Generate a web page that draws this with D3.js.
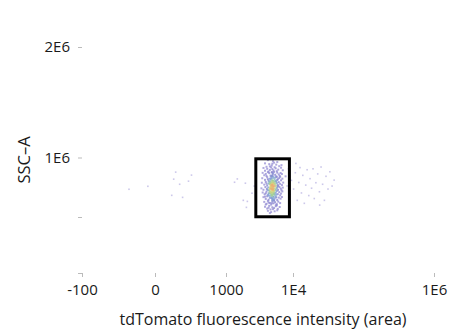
<!DOCTYPE html>
<html>
<head>
<meta charset="utf-8">
<script src="https://cdn.jsdelivr.net/npm/d3@7"></script>
<style>
  body { margin: 0; background: #fff; }
  svg text { font-family: "Open Sans", "DejaVu Sans", sans-serif; fill: #1a1a1a; }
  .tick line { stroke: #bbb; }
</style>
</head>
<body>
<svg id="chart" width="450" height="335"></svg>
<script>
// tick values and labels
var xTicks = [-100, 0, 1000, 1e4, 1e6];
var xTickLabels = ["-100", "0", "1000", "1E4", "1E6"];
var yTicks = [0, 500, 1000, 2000];               // SSC-A in thousands
var yTickLabels = ["", "", "1E6", "2E6"];

// gate (tdTomato, SSC-A in thousands)
var gateX = [2850, 8870];
var gateY = [502, 989];

// events inside the gate: [tdTomato, SSC-A (k)]
var gatedEvents = [
  [4300,978],[5100,969],[4700,985],[5900,962],
  [3900,951],[4500,944],[5300,957],[4900,933],[5700,940],[6300,927],[4100,922],[5000,948],[4600,925],[6800,936],
  [3700,912],[4200,905],[4800,917],[5200,891],[5600,909],[6100,898],[6700,914],[4400,883],[3900,889],[5000,902],[5800,885],[4600,896],[7100,893],[5400,918],
  [3600,871],[4000,862],[4300,877],[4700,848],[5100,866],[5500,855],[5900,873],[6400,846],[6900,861],[4500,869],[4900,843],[5300,879],[3800,851],[6200,858],[5700,842],[4100,845],[5000,875],[6600,870],
  [3550,826],[3900,812],[4200,834],[4400,805],[4600,822],[4800,838],[5000,809],[5200,829],[5400,816],[5600,803],[5800,836],[6000,818],[6300,827],[6700,808],[7000,822],[4700,801],[5100,841],[5500,832],[4300,818],[5900,811],[4900,826],[6500,838],
  [3500,788],[3800,772],[4000,795],[4200,765],[4400,781],[4500,797],[4700,769],[4800,786],[5000,762],[5100,792],[5300,777],[5400,798],[5600,766],[5800,785],[6000,771],[6200,793],[6500,779],[6900,768],[7200,789],[4600,777],[4900,774],[5200,785],[5500,781],[4100,781],[5700,797],[6100,761],
  [3450,741],[3700,729],[3950,752],[4150,736],[4350,748],[4450,723],[4650,742],[4750,757],[4950,731],[5050,749],[5250,726],[5350,739],[5550,754],[5650,733],[5850,745],[6050,728],[6350,751],[6650,738],[7100,747],[4550,733],[4850,744],[5150,738],[5450,722],[5950,758],[4250,727],[6800,725],
  [3600,706],[3850,691],[4100,713],[4300,684],[4500,702],[4600,716],[4800,689],[4900,707],[5100,694],[5200,712],[5400,686],[5600,703],[5800,718],[6000,692],[6300,709],[6700,697],[7000,715],[4400,695],[4700,699],[5000,683],[5300,701],[5700,688],[4000,699],[6500,682],
  [3700,667],[4000,652],[4200,674],[4400,645],[4600,661],[4800,677],[5000,648],[5200,669],[5400,656],[5600,672],[5900,643],[6200,663],[6600,654],[4500,678],[4900,659],[5300,642],[5700,664],[3900,671],[6900,668],[5100,651],
  [3800,627],[4100,611],[4300,635],[4600,618],[4800,604],[5000,631],[5200,615],[5500,624],[5800,608],[6100,629],[6500,617],[4400,621],[4900,616],[5300,637],[5700,602],[4000,605],
  [3900,586],[4200,571],[4500,594],[4700,563],[5000,582],[5300,575],[5600,591],[6000,568],[6400,584],[4400,578],[5100,566],[5800,597],
  [4300,552],[4800,541],[5400,548],[4600,533],[5900,556],
  [4700,751],[5000,768],[5200,743],[4900,722],[5100,778],[4800,735],[5300,761],[4600,789],[5000,805],[4900,791],[5200,717],[4700,712],[5100,729],[4850,764],[5050,739],[4950,683],[5150,802],[4750,818],[5250,694],[4650,747],[5000,706],[5100,756],[4900,771],[4800,705],[5200,786],
  [4950,845],[5050,858],[4850,662],[5150,671],[5000,640],[4900,877]
];

// bright tail right of the gate
var brightEvents = [
  [7800,842],[8200,761],[8600,905],[9100,690],[9500,808],[10200,735],[10800,872],[11500,640],[12100,790],[12600,915],
  [13200,702],[13800,850],[14500,615],[15200,768],[15900,897],[16800,680],[17500,822],[18400,742],[19300,905],[20100,655],
  [21200,788],[22500,862],[23800,712],[25100,920],[26400,775],[28000,640],[29500,842],[31500,735],[33500,880],[36000,760],
  [38500,810],[8900,620],[11000,950],[24000,600]
];

// dim events left of the gate
var dimEvents = [
  [-28,733],[-7,758],[101,877],[88,818],[130,775],[243,852],[210,801],[76,682],[154,665],
  [1360,792],[1990,784],[1850,640],[2130,631],[2060,581],[2500,700],[1500,820],[2700,760]
];

var svg = d3.select("#chart");
svg.append("rect").attr("width", 450).attr("height", 335).attr("fill", "#fff");

var x = d3.scaleSymlog().constant(100)
    .domain(xTicks)
    .range([82, 155, 226, 293, 434]);

var y = d3.scaleLinear()
    .domain(yTicks)
    .range([273, 217, 157.5, 47]);

// axes: no domain line, only short light ticks
var xAxis = svg.append("g")
    .attr("transform", "translate(0,273)")
    .call(d3.axisBottom(x).tickValues(xTicks).tickSize(4).tickPadding(7)
        .tickFormat((d, i) => xTickLabels[i]));
xAxis.select(".domain").remove();
xAxis.selectAll("text").style("font-size", "15px");

var yAxis = svg.append("g")
    .attr("transform", "translate(82,0)")
    .call(d3.axisLeft(y).tickValues(yTicks).tickSize(4).tickPadding(8)
        .tickFormat((d, i) => yTickLabels[i]));
yAxis.select(".domain").remove();
yAxis.selectAll("text").style("font-size", "15px");

svg.append("text")
    .attr("x", 263).attr("y", 325)
    .attr("text-anchor", "middle")
    .style("font-size", "16px")
    .text("tdTomato fluorescence intensity (area)");

svg.append("text")
    .attr("transform", "translate(30,160) rotate(-90)")
    .attr("text-anchor", "middle")
    .style("font-size", "16.5px")
    .text("SSC–A");

// colour each event by local density in pixel space
var events = gatedEvents.concat(brightEvents, dimEvents).map(d => ({px: x(d[0]), py: y(d[1])}));
events.forEach(a => {
    a.n = events.filter(b => (a.px - b.px) ** 2 + (a.py - b.py) ** 2 < 20).length;
});
var nMax = d3.max(events, d => d.n);
var color = d3.scaleLinear()
    .domain([0, 0.42, 0.6, 0.76, 0.9, 1])
    .range(["#a59bd9", "#8b86d0", "#7fa2d4", "#96cf9c", "#dfd47c", "#eba670"])
    .clamp(true);

svg.append("g").selectAll("rect")
    .data(events.sort((a, b) => a.n - b.n))
    .join("rect")
    .attr("x", d => d.px - (d.n < 3 ? 0.8 : 1))
    .attr("y", d => d.py - (d.n < 3 ? 0.8 : 1))
    .attr("width", d => d.n < 3 ? 1.6 : 2)
    .attr("height", d => d.n < 3 ? 1.6 : 2)
    .attr("fill", d => color(d.n / nMax))
    .attr("fill-opacity", d => d.n < 3 ? 0.55 : 0.8);

// gate
svg.append("rect")
    .attr("x", x(gateX[0]))
    .attr("y", y(gateY[1]))
    .attr("width", x(gateX[1]) - x(gateX[0]))
    .attr("height", y(gateY[0]) - y(gateY[1]))
    .attr("fill", "none")
    .attr("stroke", "#000")
    .attr("stroke-width", 3);
</script>
</body>
</html>
